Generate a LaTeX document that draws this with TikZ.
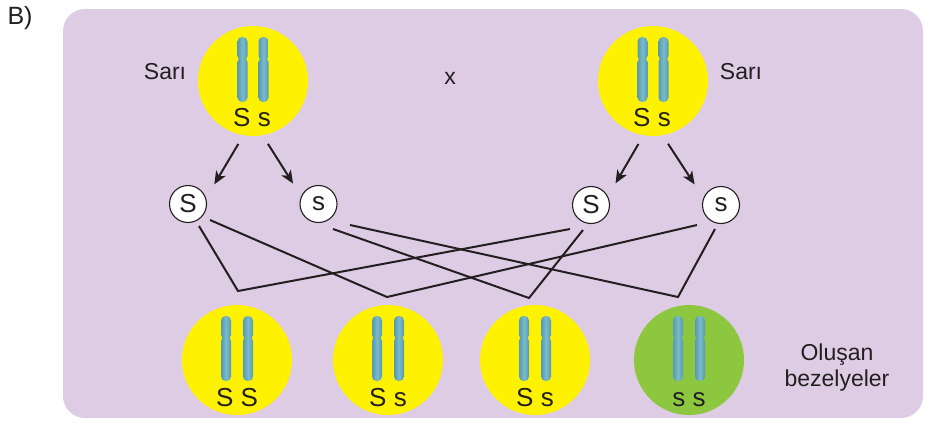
\documentclass[tikz,border=0pt]{standalone}
\usepackage{fontspec}
\setmainfont{Liberation Sans}
\usetikzlibrary{arrows.meta}

\definecolor{zemin}{RGB}{222,204,228}
\definecolor{sari}{RGB}{255,242,0}
\definecolor{yesil}{RGB}{141,198,63}
\definecolor{krom}{RGB}{86,155,178}
\definecolor{kromacik}{RGB}{122,186,202}
\definecolor{yazi}{RGB}{35,31,32}

\tikzset{
  bezelye/.style={circle, fill=sari, minimum size=110pt, inner sep=0pt},
  gamet/.style={circle, draw=yazi, fill=white, line width=1.1pt, minimum size=37pt,
    inner sep=0pt, text=yazi, font=\fontsize{26}{26}\selectfont},
  etiket/.style={text=yazi, font=\fontsize{23}{26}\selectfont, align=center},
  gen/.style={text=yazi, anchor=base, font=\fontsize{26}{26}\selectfont},
  ok/.style={draw=yazi, line width=2pt, -{Stealth[length=13pt,width=11pt,inset=3.5pt]}},
  capraz/.style={draw=yazi, line width=2pt},
  kromozom/.pic={
    \shade[left color=krom, right color=krom, middle color=kromacik, rounded corners=4.5pt]
      (-5,-44) rectangle (5,-20.5);
    \shade[left color=krom, right color=krom, middle color=kromacik, rounded corners=4.5pt]
      (-5,-23.5) rectangle (5,21);
  }
}

\begin{document}
\begin{tikzpicture}[x=1pt, y=-1pt]
  \useasboundingbox (0,0) rectangle (925,424);
  \fill[zemin, rounded corners=22pt] (63,9) rectangle (923,418);
  \node[etiket, font=\fontsize{25}{25}\selectfont] (baslik) at (20,18) {B)};

  % ebeveynler
  \node[bezelye] (ust1) at (253,81) {};
  \node[bezelye] (ust2) at (653,81) {};
  \foreach \p in {ust1, ust2} {
    \pic at ([xshift=-10.5pt]\p.center) {kromozom};
    \pic at ([xshift=10.5pt]\p.center) {kromozom};
  }
  \node[gen] (gen1) at (252,126) {S s};
  \node[gen] (gen2) at (652,126) {S s};
  \node[etiket] (sari1) at (165,72) {Sarı};
  \node[etiket] (sari2) at (741,72) {Sarı};
  \node[etiket] (carpi) at (450,78) {x};

  % gametler
  \node[gamet] (bsol) at (188,204) {S};
  \node[gamet] (csol) at (318.5,204) {s};
  \node[gamet] (bsag) at (591,205) {S};
  \node[gamet] (csag) at (721,205) {s};

  \draw[ok, shorten <=10pt, shorten >=16pt] (ust1.-100) -- (bsol.18);
  \draw[ok, shorten <=10pt, shorten >=15pt] (ust1.-80) -- (csol.156);
  \draw[ok, shorten <=10pt, shorten >=15pt] (ust2.-100) -- (bsag.27);
  \draw[ok, shorten <=10pt, shorten >=16pt] (ust2.-80) -- (csag.158);

  % yavrular
  \node[bezelye] (alt1) at (237,360) {};
  \node[bezelye] (alt2) at (388,360) {};
  \node[bezelye] (alt3) at (535,360) {};
  \node[bezelye, fill=yesil] (alt4) at (689,360) {};
  \foreach \p in {alt1, alt2, alt3, alt4} {
    \pic at ([xshift=-11pt]\p.center) {kromozom};
    \pic at ([xshift=11pt]\p.center) {kromozom};
  }
  \node[gen] (gen3) at (237,406) {S S};
  \node[gen] (gen4) at (388,406) {S s};
  \node[gen] (gen5) at (535,406) {S s};
  \node[gen] (gen6) at (689,406) {s s};
  \node[etiket] (sonuc) at (837,368) {Oluşan\\bezelyeler};

  % birlesme cizgileri
  \coordinate (a1) at ([shift={(11,22)}]bsol);
  \coordinate (a2) at ([shift={(22,16)}]bsol);
  \coordinate (b1) at ([shift={(14.5,25)}]csol);
  \coordinate (b2) at ([shift={(31.5,21)}]csol);
  \coordinate (c1) at ([shift={(-21,24)}]bsag);
  \coordinate (c2) at ([shift={(-8,25)}]bsag);
  \coordinate (d1) at ([shift={(-24,20)}]csag);
  \coordinate (d2) at ([shift={(-6,24)}]csag);
  \coordinate (k1) at (238,291);
  \coordinate (k2) at (387,297);
  \coordinate (k3) at (529,298);
  \coordinate (k4) at (678,297);

  \draw[capraz] (a1) -- (k1) -- (c1);
  \draw[capraz] (a2) -- (k2) -- (d1);
  \draw[capraz] (b1) -- (k3) -- (c2);
  \draw[capraz] (b2) -- (k4) -- (d2);
\end{tikzpicture}
\end{document}
